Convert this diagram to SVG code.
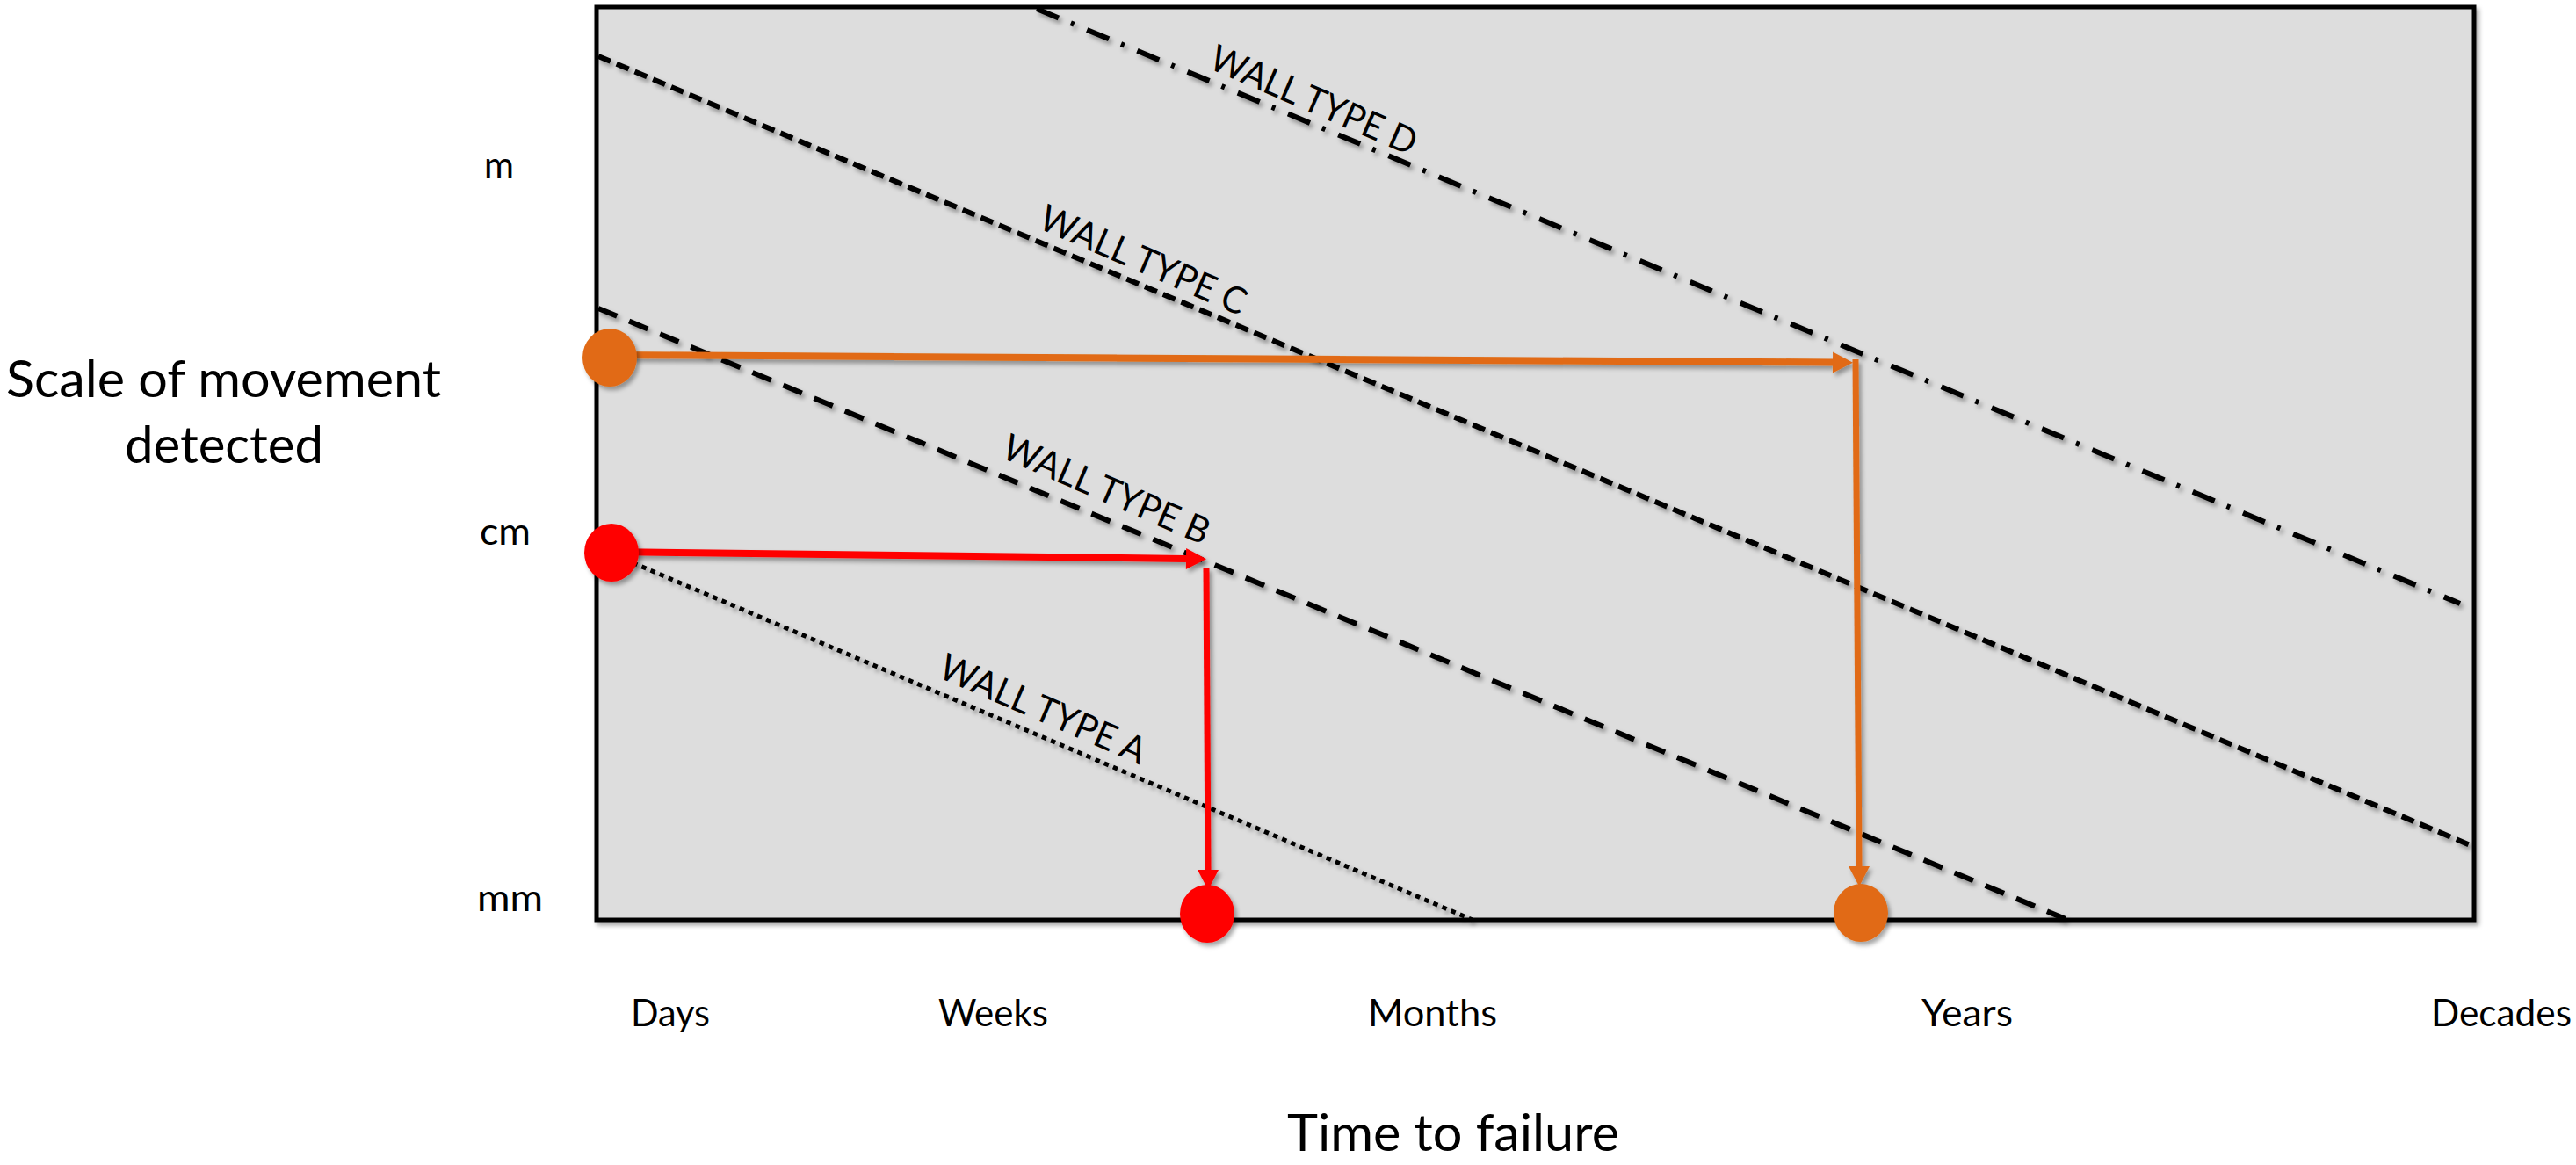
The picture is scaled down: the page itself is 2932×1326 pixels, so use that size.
<svg xmlns="http://www.w3.org/2000/svg" width="2932" height="1326" viewBox="0 0 2932 1326">
  <defs>
    <filter id="shadow" filterUnits="userSpaceOnUse" x="0" y="0" width="2932" height="1326">
      <feDropShadow dx="3" dy="4" stdDeviation="2.5" flood-color="#000" flood-opacity="0.35"/>
    </filter>
    <marker id="head-orange" markerUnits="userSpaceOnUse" markerWidth="24" markerHeight="24" refX="0" refY="12" orient="auto" overflow="visible">
      <path d="M0,0 L23,12 L0,24 z" fill="#E16B14"/>
    </marker>
    <marker id="head-red" markerUnits="userSpaceOnUse" markerWidth="24" markerHeight="24" refX="0" refY="12" orient="auto" overflow="visible">
      <path d="M0,0 L23,12 L0,24 z" fill="#FF0000"/>
    </marker>
  </defs>
  <style>
    text { font-family: Lato, "Open Sans", "Liberation Sans", sans-serif; fill: #000; }
    .axis { font-size: 43px; }
    .title { font-size: 58px; }
    .wall-label { font-size: 42px; }
    .wall { fill: none; stroke: #000; stroke-width: 6; filter: url(#shadow); }
    .wall-a { stroke-dasharray: 5.5 5.5; stroke-width: 5; }
    .wall-b { stroke-dasharray: 23 15; }
    .wall-c { stroke-dasharray: 15 7.5; }
    .wall-d { stroke-dasharray: 27 15 4 16; }
    .path-orange { fill: none; stroke: #E16B14; filter: url(#shadow); }
    .path-red { fill: none; stroke: #FF0000; filter: url(#shadow); }
    .dot-orange { fill: #E16B14; filter: url(#shadow); }
    .dot-red { fill: #FF0000; filter: url(#shadow); }
  </style>

  <!-- chart area -->
  <g id="plot-area">
    <rect x="679" y="8" width="2137" height="1039" fill="#DDDDDD" stroke="#000" stroke-width="5" filter="url(#shadow)"/>
  </g>

  <!-- axis titles -->
  <g id="y-axis-title">
    <text class="title" x="7" y="452" textLength="495" lengthAdjust="spacingAndGlyphs">Scale of movement</text>
    <text class="title" x="142" y="527" textLength="226" lengthAdjust="spacingAndGlyphs">detected</text>
  </g>
  <g id="x-axis-title">
    <text class="title" x="1465" y="1310" textLength="378" lengthAdjust="spacingAndGlyphs">Time to failure</text>
  </g>

  <!-- scale ticks -->
  <g id="y-ticks">
    <text class="axis" x="551" y="203" textLength="34" lengthAdjust="spacingAndGlyphs">m</text>
    <text class="axis" x="546" y="620" textLength="58" lengthAdjust="spacingAndGlyphs">cm</text>
    <text class="axis" x="543" y="1037" textLength="75" lengthAdjust="spacingAndGlyphs">mm</text>
  </g>
  <g id="x-ticks">
    <text class="axis" x="718" y="1168" textLength="90" lengthAdjust="spacingAndGlyphs">Days</text>
    <text class="axis" x="1068" y="1168" textLength="125" lengthAdjust="spacingAndGlyphs">Weeks</text>
    <text class="axis" x="1557" y="1168" textLength="147" lengthAdjust="spacingAndGlyphs">Months</text>
    <text class="axis" x="2187" y="1168" textLength="104" lengthAdjust="spacingAndGlyphs">Years</text>
    <text class="axis" x="2767" y="1168" textLength="160" lengthAdjust="spacingAndGlyphs">Decades</text>
  </g>

  <!-- wall type trend lines -->
  <g id="wall-type-d">
    <line class="wall wall-d" x1="1180" y1="10" x2="2800" y2="687"/>
    <text class="wall-label" transform="translate(1374,77) rotate(23.5)" textLength="252" lengthAdjust="spacingAndGlyphs">WALL TYPE D</text>
  </g>
  <g id="wall-type-c">
    <line class="wall wall-c" x1="681" y1="64" x2="2814" y2="963"/>
    <text class="wall-label" transform="translate(1180,259) rotate(23.5)" textLength="252" lengthAdjust="spacingAndGlyphs">WALL TYPE C</text>
  </g>
  <g id="wall-type-b">
    <line class="wall wall-b" x1="681" y1="351" x2="2351" y2="1046"/>
    <text class="wall-label" transform="translate(1138,520) rotate(23.5)" textLength="252" lengthAdjust="spacingAndGlyphs">WALL TYPE B</text>
  </g>
  <g id="wall-type-a">
    <line class="wall wall-a" x1="700" y1="632" x2="1676" y2="1047"/>
    <text class="wall-label" transform="translate(1066,770) rotate(23.5)" textLength="252" lengthAdjust="spacingAndGlyphs">WALL TYPE A</text>
  </g>

  <!-- reading paths -->
  <g id="connectors">
    <line class="path-orange" stroke-width="8" x1="694" y1="404" x2="2086" y2="412.5" marker-end="url(#head-orange)"/>
    <line class="path-orange" stroke-width="7" x1="2112" y1="409" x2="2116" y2="986" marker-end="url(#head-orange)"/>
    <line class="path-red" stroke-width="8" x1="696" y1="628" x2="1350" y2="636" marker-end="url(#head-red)"/>
    <line class="path-red" stroke-width="7" x1="1373" y1="646" x2="1375" y2="990" marker-end="url(#head-red)"/>
  </g>

  <!-- markers on the axes -->
  <g id="dot-orange-start"><ellipse class="dot-orange" cx="694" cy="407" rx="31" ry="33"/></g>
  <g id="dot-red-start"><ellipse class="dot-red" cx="696" cy="629" rx="31" ry="33"/></g>
  <g id="dot-red-end"><ellipse class="dot-red" cx="1374" cy="1040" rx="31" ry="33"/></g>
  <g id="dot-orange-end"><ellipse class="dot-orange" cx="2118" cy="1039" rx="31" ry="33"/></g>
</svg>
